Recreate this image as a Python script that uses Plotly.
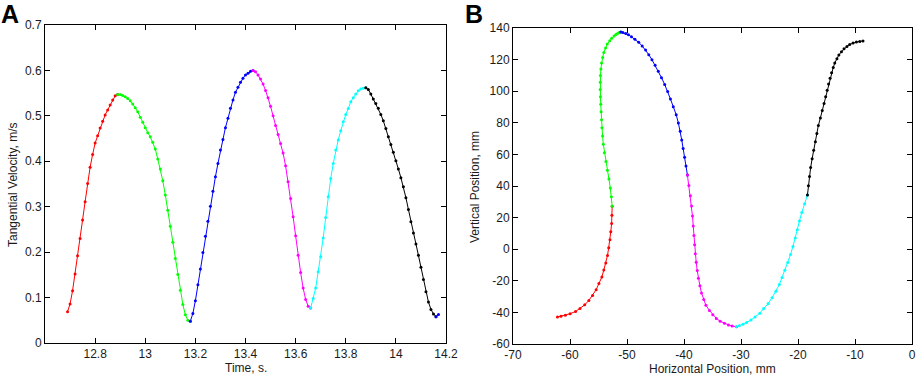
import plotly.graph_objects as go

# ---------------- Panel A: tangential velocity vs time ----------------
red_t = [12.69, 12.70, 12.71, 12.72, 12.73, 12.74, 12.75, 12.76, 12.77, 12.78, 12.79,
         12.80, 12.81, 12.82, 12.83, 12.84, 12.85, 12.86, 12.87, 12.88, 12.89]
red_v = [0.069, 0.086, 0.115, 0.152, 0.192, 0.230, 0.271, 0.311, 0.351, 0.387, 0.415,
         0.440, 0.456, 0.473, 0.488, 0.502, 0.513, 0.524, 0.535, 0.544, 0.547]

green_t = [12.89, 12.90, 12.91, 12.92, 12.93, 12.94, 12.95, 12.96, 12.97, 12.98, 12.99,
           13.00, 13.01, 13.02, 13.03, 13.04, 13.05, 13.06, 13.07, 13.08, 13.09,
           13.10, 13.11, 13.12, 13.13, 13.14, 13.15, 13.16, 13.17, 13.18]
green_v = [0.547, 0.547, 0.545, 0.542, 0.538, 0.533, 0.526, 0.518, 0.509, 0.497, 0.486,
           0.474, 0.463, 0.454, 0.442, 0.427, 0.405, 0.383, 0.357, 0.326, 0.292,
           0.257, 0.222, 0.186, 0.151, 0.116, 0.085, 0.062, 0.050, 0.048]

blue_t = [13.18, 13.19, 13.20, 13.21, 13.22, 13.23, 13.24, 13.25, 13.26, 13.27, 13.28,
          13.29, 13.30, 13.31, 13.32, 13.33, 13.34, 13.35, 13.36, 13.37, 13.38,
          13.39, 13.40, 13.41, 13.42, 13.43]
blue_v = [0.048, 0.065, 0.093, 0.128, 0.163, 0.199, 0.235, 0.268, 0.301, 0.334, 0.366,
          0.395, 0.425, 0.448, 0.474, 0.495, 0.517, 0.535, 0.552, 0.563, 0.574,
          0.583, 0.590, 0.594, 0.598, 0.600]

magenta_t = [13.43, 13.44, 13.45, 13.46, 13.47, 13.48, 13.49, 13.50, 13.51, 13.52, 13.53,
             13.54, 13.55, 13.56, 13.57, 13.58, 13.59, 13.60, 13.61, 13.62, 13.63,
             13.64, 13.65, 13.66]
magenta_v = [0.600, 0.597, 0.590, 0.581, 0.570, 0.556, 0.540, 0.521, 0.500, 0.479, 0.459,
             0.439, 0.418, 0.390, 0.355, 0.318, 0.278, 0.236, 0.193, 0.155, 0.121,
             0.096, 0.081, 0.077]

cyan_t = [13.66, 13.67, 13.68, 13.69, 13.70, 13.71, 13.72, 13.73, 13.74, 13.75, 13.76,
          13.77, 13.78, 13.79, 13.80, 13.81, 13.82, 13.83, 13.84, 13.85, 13.86,
          13.87, 13.88]
cyan_v = [0.077, 0.098, 0.121, 0.157, 0.190, 0.231, 0.276, 0.322, 0.362, 0.395, 0.425,
          0.447, 0.467, 0.487, 0.503, 0.516, 0.531, 0.540, 0.548, 0.555, 0.559,
          0.561, 0.562]

black_t = [13.88, 13.89, 13.90, 13.91, 13.92, 13.93, 13.94, 13.95, 13.96, 13.97, 13.98,
           13.99, 14.00, 14.01, 14.02, 14.03, 14.04, 14.05, 14.06, 14.07, 14.08,
           14.09, 14.10, 14.11, 14.12, 14.13, 14.14, 14.15, 14.16]
black_v = [0.562, 0.558, 0.548, 0.537, 0.527, 0.517, 0.503, 0.489, 0.472, 0.454, 0.437,
           0.420, 0.401, 0.383, 0.364, 0.344, 0.320, 0.294, 0.267, 0.242, 0.218,
           0.193, 0.167, 0.140, 0.113, 0.090, 0.074, 0.064, 0.058]

tail_t = [14.16, 14.17]
tail_v = [0.058, 0.063]

# ---------------- Panel B: trajectory (mm) ----------------
red_x = [-62.20, -61.59, -60.81, -59.98, -59.02, -58.24, -57.42, -56.69, -56.04, -55.42, -54.93,
         -54.41, -54.07, -53.72, -53.42, -53.21, -52.99, -52.85, -52.70, -52.65, -52.60]
red_y = [-42.90, -42.43, -41.84, -40.83, -39.43, -37.53, -35.21, -32.45, -29.27, -25.69, -21.78,
         -17.60, -13.21, -8.66, -3.94, 0.92, 5.91, 11.02, 16.23, 21.53, 27.20]

green_x = [-52.60, -52.74, -52.93, -53.17, -53.44, -53.70, -53.97, -54.15, -54.29, -54.40,
           -54.47, -54.54, -54.61, -54.66, -54.70, -54.69, -54.66, -54.58, -54.47, -54.27,
           -54.07, -53.76, -53.46, -53.03, -52.69, -52.27, -51.95, -51.66, -51.35, -51.08]
green_y = [27.20, 33.15, 38.80, 44.41, 49.98, 55.51, 60.98, 66.37, 71.68, 76.88,
           81.96, 86.92, 91.77, 96.51, 101.14, 105.63, 109.93, 114.00, 117.83, 121.35,
           124.54, 127.36, 129.81, 131.88, 133.58, 134.90, 135.89, 136.59, 137.08, 137.50]

blue_x = [-51.08, -50.72, -50.21, -49.74, -49.22, -48.61, -47.95, -47.34, -46.73, -46.18,
          -45.62, -45.07, -44.51, -43.95, -43.39, -42.86, -42.38, -41.88, -41.37, -40.99,
          -40.66, -40.40, -40.15, -39.90, -39.65, -39.40]
blue_y = [137.50, 137.11, 136.58, 135.67, 134.41, 132.83, 130.91, 128.64, 126.05, 123.14,
          119.91, 116.39, 112.60, 108.56, 104.28, 99.78, 95.07, 90.17, 85.11, 79.90,
          74.60, 69.19, 63.71, 58.17, 52.60, 47.00]

magenta_x = [-39.40, -39.15, -38.88, -38.67, -38.51, -38.38, -38.26, -38.14, -38.02, -37.86,
             -37.68, -37.47, -37.21, -36.93, -36.53, -36.16, -35.54, -34.95, -34.33, -33.66,
             -32.91, -32.20, -31.57, -30.80]
magenta_y = [47.00, 40.38, 33.82, 27.33, 20.96, 14.72, 8.65, 2.77, -2.88, -8.30,
             -13.50, -18.46, -23.20, -27.66, -31.77, -35.48, -38.72, -41.51, -43.80, -45.60,
             -46.93, -47.90, -48.65, -49.10]

cyan_x = [-30.80, -30.28, -29.64, -29.01, -28.24, -27.53, -26.71, -26.02, -25.23, -24.54,
          -23.87, -23.28, -22.80, -22.31, -21.80, -21.31, -20.89, -20.47, -20.12, -19.75,
          -19.33, -18.84, -18.34]
cyan_y = [-49.10, -48.41, -47.54, -46.32, -44.79, -42.84, -40.47, -37.61, -34.33, -30.66,
          -26.67, -22.41, -17.93, -13.25, -8.39, -3.39, 1.75, 7.02, 12.37, 17.80,
          23.29, 28.79, 34.30]

black_x = [-18.34, -18.17, -17.98, -17.78, -17.52, -17.25, -16.95, -16.69, -16.43, -16.07,
           -15.74, -15.43, -15.15, -14.89, -14.64, -14.37, -14.11, -13.82, -13.55, -13.17,
           -12.83, -12.37, -11.93, -11.41, -10.93, -10.34, -9.76, -9.17, -8.60]
black_y = [34.30, 40.17, 45.97, 51.65, 57.22, 62.69, 68.03, 73.23, 78.26, 83.10,
           87.76, 92.24, 96.54, 100.65, 104.56, 108.26, 111.73, 114.93, 117.86, 120.51,
           122.89, 125.00, 126.83, 128.35, 129.58, 130.47, 131.10, 131.50, 131.80]

# ---------------- tick labels ----------------
a_xticks = [12.8, 13.0, 13.2, 13.4, 13.6, 13.8, 14.0, 14.2]
a_xlabels = ["12.8", "13", "13.2", "13.4", "13.6", "13.8", "14", "14.2"]
a_yticks = [0, 0.1, 0.2, 0.3, 0.4, 0.5, 0.6, 0.7]
a_ylabels = ["0", "0.1", "0.2", "0.3", "0.4", "0.5", "0.6", "0.7"]
b_xticks = [-70, -60, -50, -40, -30, -20, -10, 0]
b_xlabels = ["-70", "-60", "-50", "-40", "-30", "-20", "-10", "0"]
b_yticks = [-60, -40, -20, 0, 20, 40, 60, 80, 100, 120, 140]
b_ylabels = ["-60", "-40", "-20", "0", "20", "40", "60", "80", "100", "120", "140"]

COLORS = {"red": "#ff0000", "green": "#00ff00", "blue": "#0000ff",
          "magenta": "#ff00ff", "cyan": "#00ffff", "black": "#000000"}

fig = go.Figure()

def seg(x, y, color, xa, ya):
    fig.add_trace(go.Scatter(
        x=x, y=y, mode="lines+markers", xaxis=xa, yaxis=ya,
        line=dict(color=color, width=1),
        marker=dict(color=color, size=3, symbol="circle"),
        showlegend=False, hoverinfo="skip"))

seg(red_t, red_v, COLORS["red"], "x", "y")
seg(green_t, green_v, COLORS["green"], "x", "y")
seg(blue_t, blue_v, COLORS["blue"], "x", "y")
seg(magenta_t, magenta_v, COLORS["magenta"], "x", "y")
seg(cyan_t, cyan_v, COLORS["cyan"], "x", "y")
seg(black_t, black_v, COLORS["black"], "x", "y")
seg(tail_t, tail_v, COLORS["blue"], "x", "y")

seg(red_x, red_y, COLORS["red"], "x2", "y2")
seg(green_x, green_y, COLORS["green"], "x2", "y2")
seg(blue_x, blue_y, COLORS["blue"], "x2", "y2")
seg(magenta_x, magenta_y, COLORS["magenta"], "x2", "y2")
seg(cyan_x, cyan_y, COLORS["cyan"], "x2", "y2")
seg(black_x, black_y, COLORS["black"], "x2", "y2")

W, H = 918, 380
FONT = "Liberation Sans, Arial, sans-serif"
TXT = "#1a1a1a"

axis_common = dict(
    showgrid=False, zeroline=False, showline=True, linecolor="#000000", linewidth=1,
    mirror="allticks", ticks="inside", ticklen=5, tickwidth=1, tickcolor="#000000",
    tickfont=dict(family=FONT, size=12, color=TXT), automargin=False, fixedrange=True)

fig.update_layout(
    width=W, height=H, margin=dict(l=0, r=0, t=0, b=0),
    paper_bgcolor="white", plot_bgcolor="white",
    font=dict(family=FONT, color=TXT),
    xaxis=dict(domain=[45 / W, 446 / W], range=[12.6, 14.2], tickmode="array",
               tickvals=a_xticks, ticktext=a_xlabels, anchor="y", **axis_common),
    yaxis=dict(domain=[1 - 343 / H, 1 - 25 / H], range=[0, 0.7], tickmode="array",
               tickvals=a_yticks, ticktext=a_ylabels, anchor="x", **axis_common),
    xaxis2=dict(domain=[513 / W, 912 / W], range=[-70, 0], tickmode="array",
                tickvals=b_xticks, ticktext=b_xlabels, anchor="y2", **axis_common),
    yaxis2=dict(domain=[1 - 344 / H, 1 - 28 / H], range=[-60, 140], tickmode="array",
                tickvals=b_yticks, ticktext=b_ylabels, anchor="x2", **axis_common),
)

def note(text, px, py, size=12, bold=False, angle=0, xanchor="center", yanchor="middle"):
    fig.add_annotation(
        text=f"<b>{text}</b>" if bold else text, x=px / W, y=1 - py / H,
        xref="paper", yref="paper", showarrow=False, textangle=angle,
        xanchor=xanchor, yanchor=yanchor,
        font=dict(family=FONT, size=size, color="#000000" if bold else TXT))

note("A", -1, -2, size=25, bold=True, xanchor="left", yanchor="top")
note("B", 463, -2, size=25, bold=True, xanchor="left", yanchor="top")
note("Time, s.", 245.5, 368)
note("Tangential Velocity, m/s", 13, 185, angle=-90)
note("Horizontal Position, mm", 712, 369)
note("Vertical Position, mm", 475, 187, angle=-90)

fig.write_html(
    "out.html",
    config={"displayModeBar": False, "staticPlot": True},
    post_script="document.body.style.margin='0';document.body.style.padding='0';"
                "document.body.style.overflow='hidden';")
